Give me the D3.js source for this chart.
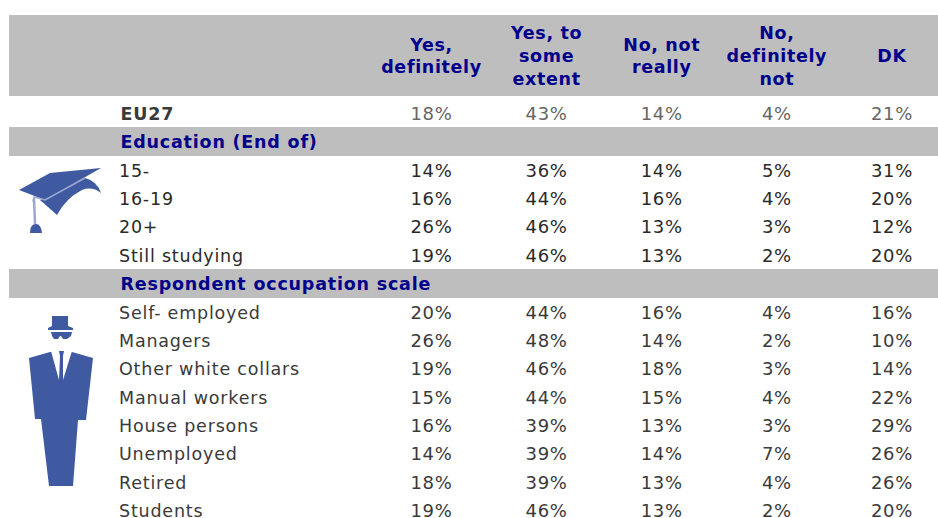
<!DOCTYPE html>
<html>
<head>
<meta charset="utf-8">
<script src="https://cdn.jsdelivr.net/npm/d3@7"></script>
<style>
  html, body { margin: 0; padding: 0; background: #fff; }
  svg { display: block; }
  text { font-family: "DejaVu Sans", Verdana, sans-serif; }
</style>
</head>
<body>
<svg id="chart" width="938" height="518"></svg>
<script>
var columns = [["Yes,", "definitely"], ["Yes, to", "some", "extent"], ["No, not", "really"], ["No,", "definitely", "not"], ["DK"]];

// row labels, top to bottom, the group titles are rows too
var rowLabels = ["EU27", "Education (End of)", "15-", "16-19", "20+", "Still studying",
  "Respondent occupation scale", "Self- employed", "Managers", "Other white collars",
  "Manual workers", "House persons", "Unemployed", "Retired", "Students"];
var groupRows = ["Education (End of)", "Respondent occupation scale"];

var yesDefinitely = [18, null, 14, 16, 26, 19, null, 20, 26, 19, 15, 16, 14, 18, 19];
var yesSome       = [43, null, 36, 44, 46, 46, null, 44, 48, 46, 44, 39, 39, 39, 46];
var noNotReally   = [14, null, 14, 16, 13, 13, null, 16, 14, 18, 15, 13, 14, 13, 13];
var noDefinitely  = [4,  null, 5,  4,  3,  2,  null, 4,  2,  3,  4,  3,  7,  4,  2];
var dontKnow      = [21, null, 31, 20, 12, 20, null, 16, 10, 14, 22, 29, 26, 26, 20];
var series = [yesDefinitely, yesSome, noNotReally, noDefinitely, dontKnow];

var svg = d3.select("#chart");

var x = d3.scalePoint().domain(d3.range(columns.length)).range([431.5, 892]);
var y = d3.scalePoint().domain(rowLabels).range([113, 510]);

var gray = "#bebebe", navy = "#00008b", blue = "#3f5aa0";

function textColor(i) {
  if (i == 0) return "#666";
  return i < 6 ? "#2a2a2a" : "#3a3a3a";
}

// gray bands
svg.append("rect").attr("x", 9).attr("y", 15).attr("width", 929).attr("height", 81).attr("fill", gray);
svg.selectAll(".band")
  .data(groupRows)
  .enter().append("rect")
  .attr("class", "band")
  .attr("x", 9)
  .attr("y", function(d) { return Math.round(y(d) - 14.5); })
  .attr("width", 929)
  .attr("height", 29)
  .attr("fill", gray);

// header
var header = svg.selectAll(".head")
  .data(columns)
  .enter().append("text")
  .attr("class", "head")
  .attr("text-anchor", "middle")
  .attr("font-size", 17.5)
  .attr("letter-spacing", 0.65)
  .attr("font-weight", "bold")
  .attr("fill", navy);

header.selectAll("tspan")
  .data(function(d, i) {
    return d.map(function(line, j) { return { line: line, col: i, j: j, n: d.length }; });
  })
  .enter().append("tspan")
  .attr("x", function(d) { return x(d.col); })
  .attr("y", function(d) { return 62 + (d.j - (d.n - 1) / 2) * 22.7; })
  .text(function(d) { return d.line; });

// row labels
svg.selectAll(".row")
  .data(rowLabels)
  .enter().append("text")
  .attr("class", "row")
  .attr("x", function(d, i) { return (i < 2 || d === groupRows[1]) ? 120.5 : 119; })
  .attr("y", function(d) { return y(d) + 7; })
  .attr("font-size", 17.5)
  .attr("letter-spacing", 0.8)
  .attr("font-weight", function(d, i) { return (i == 0 || groupRows.indexOf(d) >= 0) ? "bold" : "normal"; })
  .attr("fill", function(d, i) {
    if (groupRows.indexOf(d) >= 0) return navy;
    return i == 0 ? "#3a3a3a" : textColor(i);
  })
  .text(function(d) { return d; });

// values
series.forEach(function(values, c) {
  var cells = values.map(function(v, r) { return { value: v, row: r }; })
    .filter(function(d) { return d.value !== null; });

  svg.selectAll(".val" + c)
    .data(cells)
    .enter().append("text")
    .attr("class", "val" + c)
    .attr("x", x(c))
    .attr("y", function(d) { return y(rowLabels[d.row]) + 7; })
    .attr("text-anchor", "middle")
    .attr("font-size", 18)
    .attr("letter-spacing", 0.7)
    .attr("fill", function(d) { return textColor(d.row); })
    .text(function(d) { return d.value + "%"; });
});

// graduation cap
var cap = svg.append("g").attr("fill", blue);
cap.append("path").attr("d", "M85,178 Q97,181 101,193 Q92,186 82,190 Q66,198 57,215 L48,207 L40,200 Z");
cap.append("path").attr("d", "M101,168 L50,173 L19,190 L45,200 Z");
cap.append("path").attr("d", "M33,202 L34,197 L45,200 L85,178").attr("fill", "none").attr("stroke", "#9aa9cf").attr("stroke-width", 1.5);
cap.append("path").attr("d", "M34,198 L35,224").attr("fill", "none").attr("stroke", "#9aa9cf").attr("stroke-width", 2.5);
cap.append("path").attr("d", "M30,233 Q30,224 36,224 Q41,224 42,233 Z");

// man in a suit
var man = svg.append("g").attr("fill", blue);
man.append("path").attr("d", "M52,316 L68,316 L68,326 L73,328 L73,330 L48,330 L48,328 L52,326 Z");
man.append("path").attr("d", "M51,332 L72,332 L71,336 L67,339 L63,339 L61,336 L60,336 L58,339 L54,339 L52,336 Z");
man.append("path").attr("d", "M50,352 L59,351 L64,351 L72,352 L93,358 L86,420 L78,420 L73,486 L49,486 L41,419 L35,419 L29,358 Z");
man.append("path").attr("fill", "#fff").attr("d", "M51,351 L59,351 L60,356 L59,380 Z");
man.append("path").attr("fill", "#fff").attr("d", "M64,351 L72,351 L63,380 L63,356 Z");
</script>
</body>
</html>
